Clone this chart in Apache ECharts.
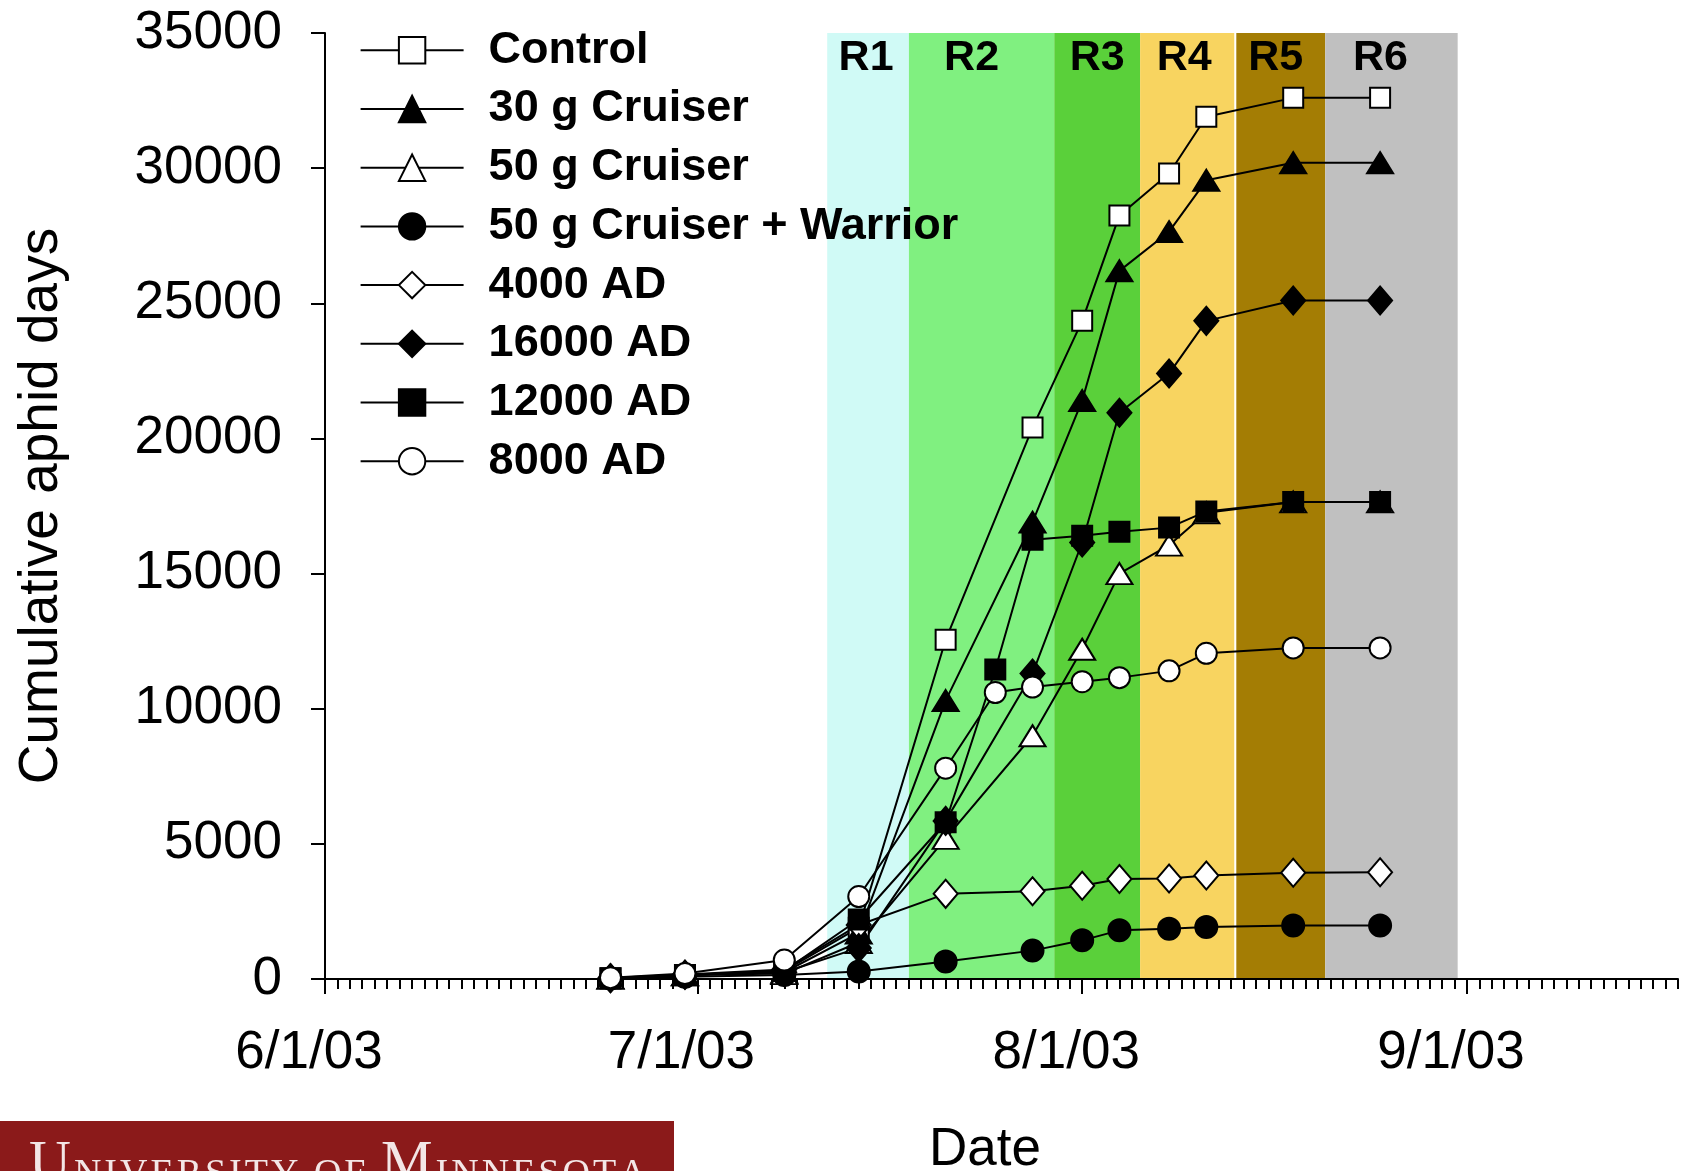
<!DOCTYPE html>
<html><head><meta charset="utf-8">
<script src="https://cdn.jsdelivr.net/npm/echarts@6/dist/echarts.min.js"></script>
<style>html,body{margin:0;padding:0;background:#fff}#c{width:1689px;height:1171px}</style>
</head><body><div id="c"></div>
<script>
// ---------------- data ----------------
const seriesNames = ['Control', '30 g Cruiser', '50 g Cruiser', '50 g Cruiser + Warrior', '4000 AD', '16000 AD', '12000 AD', '8000 AD'];
const datesA = ['2003-06-24','2003-06-30','2003-07-08','2003-07-14','2003-07-21','2003-07-28','2003-08-01','2003-08-04','2003-08-08','2003-08-11','2003-08-18','2003-08-25'];
const datesB = ['2003-06-24','2003-06-30','2003-07-08','2003-07-14','2003-07-21','2003-07-25','2003-07-28','2003-08-01','2003-08-04','2003-08-08','2003-08-11','2003-08-18','2003-08-25'];
const control        = [30, 150, 300, 1900, 12550, 20400, 24350, 28250, 29800, 31900, 32600, 32600];
const cruiser30      = [30, 150, 250, 1700, 10300, 16900, 21400, 26200, 27650, 29550, 30200, 30200];
const cruiser50      = [30, 150, 200, 1350, 5200, 9000, 12200, 15000, 16050, 17250, 17650, 17650];
const cruiserWarrior = [20, 80, 150, 280, 650, 1050, 1430, 1800, 1860, 1920, 1980, 1980];
const ad4000         = [40, 170, 350, 2000, 3150, 3250, 3450, 3700, 3720, 3830, 3930, 3950];
const ad16000        = [30, 150, 250, 1150, 5850, 11300, 16150, 20950, 22400, 24350, 25100, 25100];
const ad12000        = [30, 150, 300, 2200, 5800, 11450, 16250, 16400, 16550, 16700, 17300, 17650, 17650];
const ad8000         = [50, 200, 700, 3050, 7800, 10600, 10800, 11000, 11150, 11400, 12050, 12250, 12250];

const xMin = '2003-06-01', xMax = '2003-09-18';
const xTickDates  = ['2003-06-01', '2003-07-01', '2003-08-01', '2003-09-01'];
const xTickLabels = ['6/1/03', '7/1/03', '8/1/03', '9/1/03'];
const yMin = 0, yMax = 35000, yStep = 5000;

const stageNames = ['R1', 'R2', 'R3', 'R4', 'R5', 'R6'];
const stageStart = ['2003-07-11 11:00', '2003-07-18 01:00', '2003-07-29 18:00', '2003-08-05 16:00', '2003-08-13 10:00', '2003-08-20 14:00'];
const stageEnd   = ['2003-07-18 01:00', '2003-07-29 18:00', '2003-08-05 16:00', '2003-08-13 06:00', '2003-08-20 14:00', '2003-08-31 06:00'];

// ---------------- styles ----------------
const stageColors = ['#D0FAF6', '#80F080', '#5AD03A', '#F8D460', '#A47D04', '#C0C0C0'];
const stageLabelShift = [-2, -10, 0, -3, -5, -11];
const markers = [
  {symbol: 'rect', size: 20, fill: '#fff'},
  {symbol: 'triangle', size: [26, 21], fill: '#000'},
  {symbol: 'triangle', size: [26, 21], fill: '#fff'},
  {symbol: 'circle', size: 22, fill: '#000'},
  {symbol: 'diamond', size: [24, 28], fill: '#fff'},
  {symbol: 'diamond', size: [24, 28], fill: '#000'},
  {symbol: 'rect', size: 20, fill: '#000'},
  {symbol: 'circle', size: 21, fill: '#fff'}
];
const FONT = 'Liberation Sans, Arial, sans-serif';

function toTime(s) {
  const [d, t] = s.split(' ');
  const [y, m, dd] = d.split('-').map(Number);
  let h = 0, mi = 0;
  if (t) { [h, mi] = t.split(':').map(Number); }
  return new Date(y, m - 1, dd, h, mi).getTime();
}

const allValues = [control, cruiser30, cruiser50, cruiserWarrior, ad4000, ad16000, ad12000, ad8000];
const allDates  = [datesA, datesA, datesA, datesA, datesA, datesA, datesB, datesB];

const xTickTimes = xTickDates.map(toTime);
const dayTicks = [];
{
  const [y, m, d] = xMin.split('-').map(Number);
  const end = toTime(xMax);
  for (let i = 0; ; i++) {
    const t = new Date(y, m - 1, d + i).getTime();
    if (t > end) break;
    dayTicks.push(t);
  }
}

const bandData = stageNames.map((n, i) => [
  {name: n, xAxis: toTime(stageStart[i]), yAxis: yMax, itemStyle: {color: stageColors[i], opacity: 1},
   label: {offset: [stageLabelShift[i], 0]}},
  {xAxis: toTime(stageEnd[i]), yAxis: yMin}
]);

const lineSeries = seriesNames.map((name, k) => ({
  name, type: 'line', z: 3,
  data: allDates[k].map((d, i) => [toTime(d), allValues[k][i]]),
  symbol: markers[k].symbol, symbolSize: markers[k].size, showAllSymbol: true,
  lineStyle: {color: '#000', width: 2},
  itemStyle: {color: markers[k].fill, borderColor: '#000', borderWidth: 2, opacity: 1},
  emphasis: {disabled: true},
  animation: false
}));

// logo text as rich tokens (small caps)
const logoText = 'UNIVERSITY OF MINNESOTA';
const logoRich = logoText.split('').map((c, i) => {
  const big = (i === 0 || logoText[i - 1] === ' ') && (c === 'U' || c === 'M');
  return c === ' ' ? '{sp| }' : `{${big ? 'b' : 's'}|${c}}`;
}).join('');

const chart = echarts.init(document.getElementById('c'), null, {renderer: 'canvas'});
chart.setOption({
  animation: false,
  backgroundColor: '#fff',
  grid: {left: 325, right: 11, top: 33, bottom: 192, containLabel: false, outerBoundsMode: 'none'},
  legend: {
    data: seriesNames, orient: 'vertical', left: 354.6, top: 20.3,
    itemWidth: 103, itemHeight: 33, itemGap: 8.7,
    selectedMode: false,
    textStyle: {fontSize: 45, fontWeight: 'bold', fontFamily: FONT, color: '#000', lineHeight: 50, padding: [0, 0, 0, 20]}
  },
  xAxis: [{
    type: 'value', min: toTime(xMin), max: toTime(xMax), z: 2,
    axisLine: {show: true, onZero: false, lineStyle: {color: '#000', width: 2}},
    axisTick: {show: true, customValues: xTickTimes, length: 15, inside: false, lineStyle: {color: '#000', width: 2}},
    axisLabel: {
      show: true, customValues: xTickTimes, margin: 48, fontSize: 53, fontFamily: FONT, color: '#000',
      padding: [0, 32, 0, 0],
      formatter: v => { const i = xTickTimes.indexOf(v); return i >= 0 ? xTickLabels[i] : ''; }
    },
    splitLine: {show: false},
    name: 'Date', nameLocation: 'middle', nameGap: 145,
    nameTextStyle: {fontSize: 53, fontFamily: FONT, color: '#000', padding: [0, 33, 0, 0]}
  }, {
    type: 'value', min: toTime(xMin), max: toTime(xMax), position: 'bottom', z: 2,
    axisLine: {show: false, onZero: false},
    axisTick: {show: true, customValues: dayTicks, length: 10, lineStyle: {color: '#000', width: 2}},
    axisLabel: {show: false},
    splitLine: {show: false}
  }],
  yAxis: {
    type: 'value', min: yMin, max: yMax, interval: yStep, z: 2,
    axisLine: {show: true, lineStyle: {color: '#000', width: 2}},
    axisTick: {show: true, length: 14, lineStyle: {color: '#000', width: 2}},
    axisLabel: {margin: 43, fontSize: 53, fontFamily: FONT, color: '#000', formatter: v => String(v)},
    splitLine: {show: false},
    name: 'Cumulative aphid days', nameLocation: 'middle', nameGap: 256,
    nameTextStyle: {fontSize: 55, fontFamily: FONT, color: '#000'}
  },
  series: [{
    name: 'stages', type: 'line', data: [], z: 1, silent: true,
    markArea: {
      silent: true, z: 1,
      label: {show: true, position: 'insideTop', distance: 4, fontSize: 43, fontWeight: 'bold', fontFamily: FONT, color: '#000'},
      data: bandData
    }
  }].concat(lineSeries),
  graphic: [
    {type: 'rect', left: 0, top: 1121, z: 10, shape: {width: 674, height: 50}, style: {fill: '#8B1A1A'}},
    {type: 'text', x: 29, y: 1194, z: 11, style: {
      text: logoRich, verticalAlign: 'bottom', align: 'left', fill: '#F3E6E6',
      rich: {
        b: {fontSize: 58, lineHeight: 58, fontFamily: 'Liberation Serif, Times New Roman, serif', color: '#F3E6E6', verticalAlign: 'bottom', padding: [0, 3, 0, 0]},
        s: {fontSize: 38, lineHeight: 38, fontFamily: 'Liberation Serif, Times New Roman, serif', color: '#F3E6E6', verticalAlign: 'bottom', padding: [0, 3, 0, 0]},
        sp: {fontSize: 38, lineHeight: 38, fontFamily: 'Liberation Serif, Times New Roman, serif', verticalAlign: 'bottom', padding: [0, 3, 0, 0]}
      }
    }}
  ]
});
</script>
</body></html>
